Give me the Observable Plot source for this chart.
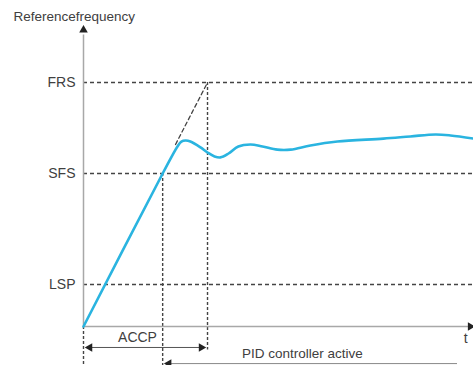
<!DOCTYPE html>
<html>
<head>
<meta charset="utf-8">
<script src="https://cdn.jsdelivr.net/npm/d3@7"></script>
<script src="https://cdn.jsdelivr.net/npm/@observablehq/plot@0.6"></script>
<style>
  body { margin: 0; background: #fff; }
  svg { font-family: "Liberation Sans", Arial, sans-serif; }
</style>
</head>
<body>
<div id="chart"></div>
<script>
// Reference levels (y units, FRS = 100)
const levelNames = ["LSP", "SFS", "FRS"];
const levelValues = [17.2, 62.7, 100];

// Time markers (x units)
const tSFS = 20.3;      // ramp crosses SFS, PID becomes active
const tACCP = 31.8;     // end of ACCP ramp (reaches FRS)
const tPIDEnd = 95.9;   // end of PID arrow

// Reference frequency curve
const curveT = [0, 20.3, 24.1, 25.1, 26.2, 27.4, 30, 31.8, 33.6, 35.1, 37.2, 39.7, 42.8, 45.9, 49.7, 53.1, 58.2, 65.1, 76.9, 83.8, 90.3, 94.1, 100];
const curveF = [0, 62.7, 73.8, 75.8, 76.2, 75.8, 73.4, 71.3, 69.7, 69.3, 70.9, 73.8, 74.6, 73.8, 72.5, 72.5, 74.2, 75.8, 77.0, 77.9, 78.7, 78.3, 77.0];

// Dashed ideal ramp extension
const rampT = [23.6, 31.8];
const rampF = [74.6, 100];

// Axis extents
const yTop = 121.5;
const xEnd = 100;
const yBottom = -16;
const yACCP = -8.6;
const yPID = -15.2;

const curve = curveT.map((t, i) => ({t, f: curveF[i]}));
const levels = levelNames.map((name, i) => ({name, v: levelValues[i]}));
const ramp = rampT.map((t, i) => ({t, f: rampF[i]}));

const dark = "#444";
const axisGray = "#a8a8a8";
const textColor = "#404040";

const chart = Plot.plot({
  width: 473,
  height: 365,
  marginLeft: 83,
  marginRight: 0,
  marginTop: 82,
  marginBottom: 39,
  x: {domain: [0, 100], axis: null},
  y: {domain: [0, 100], axis: null},
  style: {fontFamily: "Liberation Sans, Arial, sans-serif", fontSize: "14px", overflow: "visible"},
  marks: [
    // horizontal dashed levels
    Plot.ruleY(levels, {y: "v", x1: 0, x2: xEnd, stroke: dark, strokeWidth: 1.4, strokeDasharray: "4,3"}),
    // vertical dashed markers
    Plot.ruleX([0], {x: d => d, y1: 0, y2: yBottom, stroke: dark, strokeWidth: 1.4, strokeDasharray: "3,2"}),
    Plot.ruleX([tSFS], {x: d => d, y1: levelValues[1], y2: yBottom, stroke: dark, strokeWidth: 1.4, strokeDasharray: "3,2"}),
    Plot.ruleX([tACCP], {x: d => d, y1: levelValues[2], y2: yACCP - 1, stroke: dark, strokeWidth: 1.4, strokeDasharray: "3,2"}),
    // ramp extension
    Plot.line(ramp, {x: "t", y: "f", stroke: dark, strokeWidth: 1.3, strokeDasharray: "4,3"}),
    // axes
    Plot.ruleX([0], {x: d => d, y1: 0, y2: yTop - 2, stroke: axisGray, strokeWidth: 1.5}),
    Plot.ruleY([0], {y: d => d, x1: 0, x2: xEnd - 1, stroke: axisGray, strokeWidth: 1.5}),
    Plot.dot([0], {x: 0, y: yTop, symbol: "triangle", r: 3.2, fill: "#222", stroke: "none"}),
    Plot.dot([0], {x: xEnd - 0.8, y: 0, symbol: "triangle", rotate: 90, r: 3.2, fill: "#222", stroke: "none"}),
    // ACCP arrow
    Plot.ruleY([yACCP], {y: d => d, x1: 0.8, x2: tACCP - 0.8, stroke: "#555", strokeWidth: 1}),
    Plot.dot([0, tACCP], {x: (d, i) => i === 0 ? 1.6 : tACCP - 1.6, y: yACCP, symbol: "triangle", rotate: (d, i) => i === 0 ? -90 : 90, r: 3.2, fill: "#222", stroke: "none"}),
    Plot.text(["ACCP"], {x: tACCP / 2, y: yACCP, dx: -8, dy: -10, text: d => d, fill: textColor, fontSize: 14}),
    // PID arrow
    Plot.ruleY([yPID], {y: d => d, x1: tSFS + 0.8, x2: tPIDEnd, stroke: "#888", strokeWidth: 1}),
    Plot.dot([tSFS], {x: tSFS + 1.6, y: yPID, symbol: "triangle", rotate: -90, r: 3.2, fill: "#222", stroke: "none"}),
    Plot.text(["PID controller active"], {x: (tSFS + tPIDEnd) / 2 - 2, y: yPID, dy: -10, text: d => d, fill: textColor, fontSize: 13.5}),
    // t label
    Plot.text(["t"], {x: 98, y: 0, dy: 12, text: d => d, fill: textColor, fontSize: 14}),
    // level labels
    Plot.text(levels, {x: 0, y: "v", text: "name", textAnchor: "end", dx: -8, fill: textColor, fontSize: 14}),
    // axis title
    Plot.text(["Referencefrequency"], {x: 0, y: yTop, dy: -13, dx: -70, textAnchor: "start", text: d => d, fill: textColor, fontSize: 13.5}),
    // frequency curve
    Plot.line(curve, {x: "t", y: "f", stroke: "#2ab4e0", strokeWidth: 2.6, curve: "catmull-rom"})
  ]
});
document.getElementById("chart").append(chart);
</script>
</body>
</html>
